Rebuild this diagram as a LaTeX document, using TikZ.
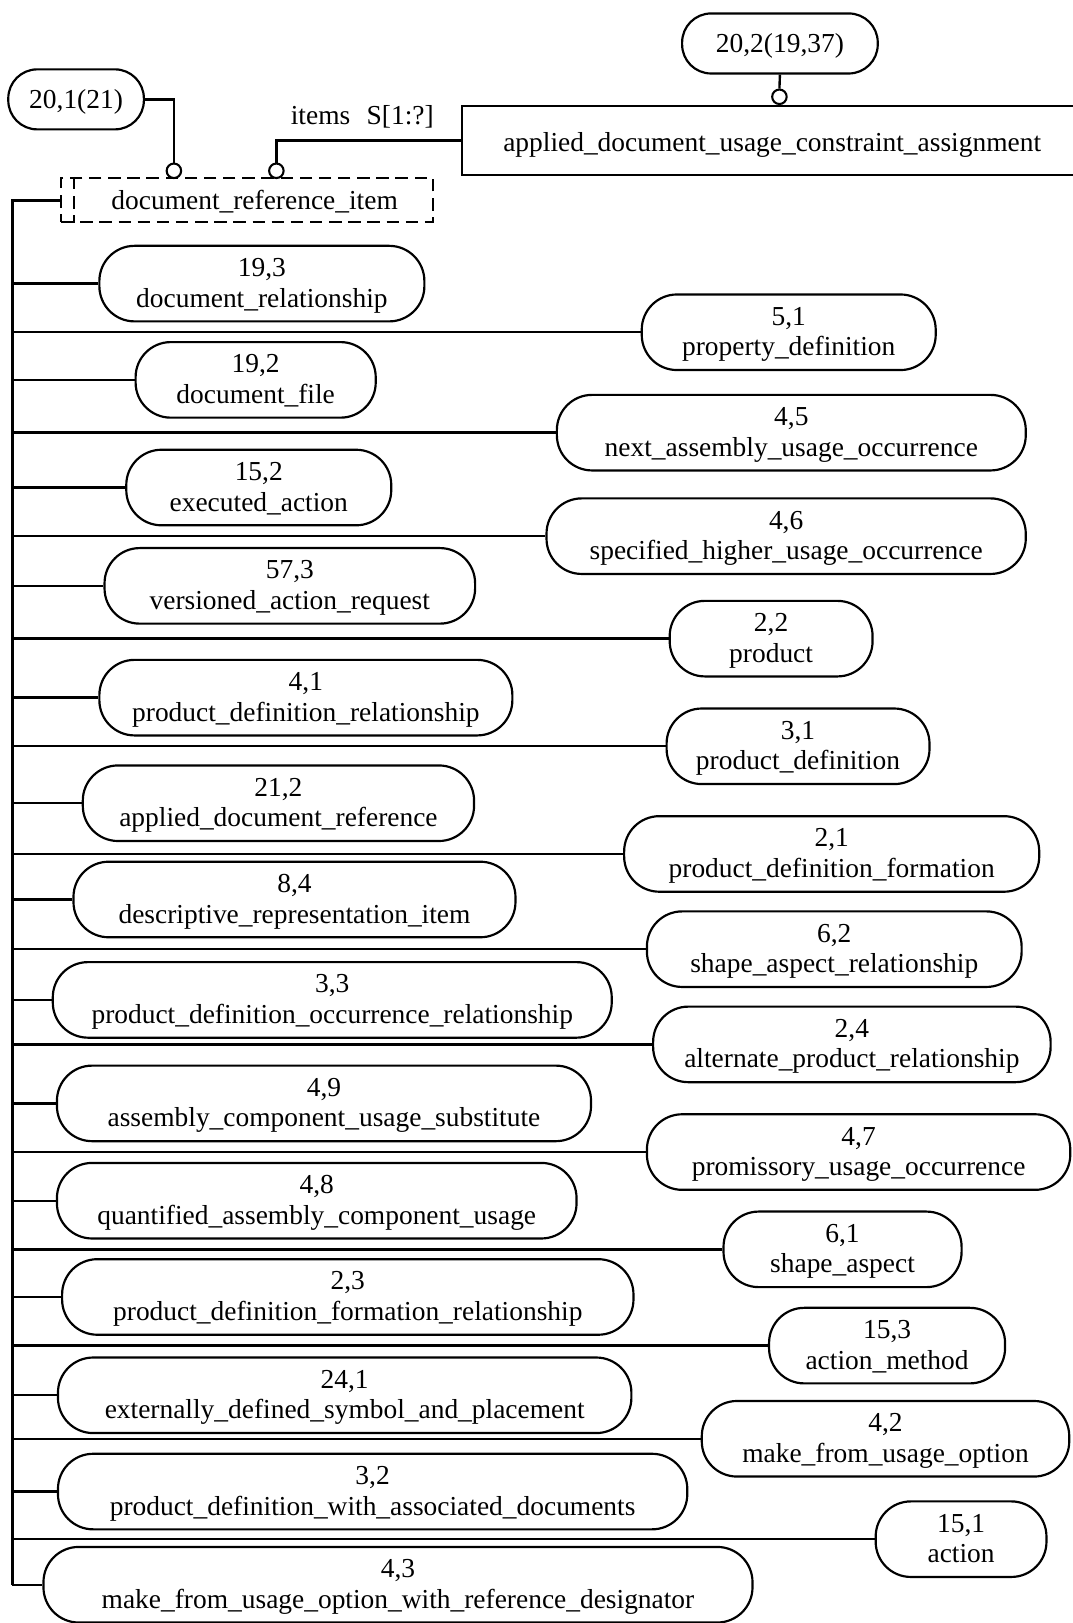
\documentclass[tikz,border=0pt]{standalone}
\usepackage{fontspec}
\setmainfont{Liberation Serif}
% two-line entity label with fixed line box so every pill sets its text alike
\newcommand\pilltext[2]{\rule{0pt}{24pt}#1\\#2\rule[-8pt]{0pt}{8pt}}
% one-line label with fixed height and depth
\newcommand\onetext[3]{\rule{0pt}{#1}#3\rule[-#2]{0pt}{#2}}
\begin{document}
\begin{tikzpicture}[x=1pt,y=-1pt,
  every node/.style={font=\fontsize{26.5}{29.5}\selectfont},
  pill/.style={draw, line width=2.1pt, rounded corners=34pt, minimum height=73pt,
    align=center, inner sep=0pt},
  smallpill/.style={draw, line width=2.1pt, rounded corners=28pt, minimum height=58pt,
    align=center, inner sep=0pt},
  conn/.style={line width=2.3pt},
  trunkline/.style={line width=2.9pt},
  selectdash/.style={dash pattern=on 12pt off 6.5pt, line width=2.1pt},
  ring/.style={circle, draw, line width=2pt, fill=white, minimum size=14pt, inner sep=0pt}]
\useasboundingbox (0,0) rectangle (1036,1568);

% header entities
\node[smallpill, minimum width=189pt] (p202) at (753.5,42) {\onetext{23pt}{6pt}{20,2(19,37)}};
\node[smallpill, minimum width=131pt] (p201) at (73.5,96) {\onetext{24pt}{6pt}{20,1(21)}};
\node[draw, line width=2.1pt, minimum width=600pt, minimum height=66.5pt, inner sep=0pt]
  (adu) at (746,135.75) {\onetext{28pt}{6pt}{applied\_document\_usage\_constraint\_assignment}};

% select type: dashed box with the extra line at its left end
\node[draw, selectdash, minimum width=359pt, minimum height=42.5pt, inner sep=0pt]
  (dri) at (238.5,193.25) {\onetext{24pt}{6pt}{\hspace*{15pt}document\_reference\_item}};
\draw[selectdash] ([xshift=13.5pt]dri.north west) -- ([xshift=13.5pt]dri.south west);

\node[ring] (r1) at (168,165) {};
\node[ring] (r2) at (267,165) {};
\node[ring] (r3) at (753,93.5) {};
\node (items) at (350,113) {items\hspace{0.6em}S[1:?]};

\draw[conn] (p201.east) -| (r1.north);
\draw[conn] (adu.west) -| (r2.north);
\draw[conn] (p202.south) -- (r3.north);

% select members, left column
\node[pill, minimum width=314pt] (n193) at (253,274) {\pilltext{19,3}{document\_relationship}};
\node[pill, minimum width=232pt] (n192) at (247,367) {\pilltext{19,2}{document\_file}};
\node[pill, minimum width=256pt] (n152) at (250,471) {\pilltext{15,2}{executed\_action}};
\node[pill, minimum width=358pt] (n573) at (280,566) {\pilltext{57,3}{versioned\_action\_request}};
\node[pill, minimum width=399pt] (n41) at (295.5,674) {\pilltext{4,1}{product\_definition\_relationship}};
\node[pill, minimum width=378pt] (n212) at (269,776) {\pilltext{21,2}{applied\_document\_reference}};
\node[pill, minimum width=427pt] (n84) at (284.5,869) {\pilltext{8,4}{descriptive\_representation\_item}};
\node[pill, minimum width=540pt] (n33) at (321,966) {\pilltext{3,3}{product\_definition\_occurrence\_relationship}};
\node[pill, minimum width=516pt] (n49) at (313,1066) {\pilltext{4,9}{assembly\_component\_usage\_substitute}};
\node[pill, minimum width=502pt] (n48) at (306,1160) {\pilltext{4,8}{quantified\_assembly\_component\_usage}};
\node[pill, minimum width=552pt] (n23) at (336,1253) {\pilltext{2,3}{product\_definition\_formation\_relationship}};
\node[pill, minimum width=554pt] (n241) at (333,1348) {\pilltext{24,1}{externally\_defined\_symbol\_and\_placement}};
\node[pill, minimum width=608pt] (n32) at (360,1441) {\pilltext{3,2}{product\_definition\_with\_associated\_documents}};
\node[pill, minimum width=685pt] (n43) at (384.5,1531) {\pilltext{4,3}{make\_from\_usage\_option\_with\_reference\_designator}};

% select members, right column
\node[pill, minimum width=284pt] (n51) at (762,321) {\pilltext{5,1}{property\_definition}};
\node[pill, minimum width=453pt] (n45) at (764.5,418) {\pilltext{4,5}{next\_assembly\_usage\_occurrence}};
\node[pill, minimum width=463pt] (n46) at (759.5,518) {\pilltext{4,6}{specified\_higher\_usage\_occurrence}};
\node[pill, minimum width=196pt] (n22) at (745,617) {\pilltext{2,2}{product}};
\node[pill, minimum width=254pt] (n31) at (771,721) {\pilltext{3,1}{product\_definition}};
\node[pill, minimum width=401pt] (n21) at (803.5,825) {\pilltext{2,1}{product\_definition\_formation}};
\node[pill, minimum width=362pt] (n62) at (806,917) {\pilltext{6,2}{shape\_aspect\_relationship}};
\node[pill, minimum width=384pt] (n24) at (823,1009) {\pilltext{2,4}{alternate\_product\_relationship}};
\node[pill, minimum width=409pt] (n47) at (829.5,1113) {\pilltext{4,7}{promissory\_usage\_occurrence}};
\node[pill, minimum width=230pt] (n61) at (814,1207) {\pilltext{6,1}{shape\_aspect}};
\node[pill, minimum width=228pt] (n153) at (857,1300) {\pilltext{15,3}{action\_method}};
\node[pill, minimum width=355pt] (n42) at (855.5,1390) {\pilltext{4,2}{make\_from\_usage\_option}};
\node[pill, minimum width=165pt] (n151) at (928.5,1487) {\pilltext{15,1}{action}};

% trunk from the select type down the left side
\coordinate (tk) at (12,193.25);
\draw[trunkline] (dri.west) -- (tk) -- (tk |- n43.west);

% branches
\foreach \n in {n193,n192,n152,n573,n41,n212,n84,n33,n49,n48,n23,n241,n32,n43,
                n51,n45,n46,n22,n31,n21,n62,n24,n47,n61,n153,n42,n151}
  \draw[conn] (tk |- \n.west) -- (\n.west);
\end{tikzpicture}
\end{document}
